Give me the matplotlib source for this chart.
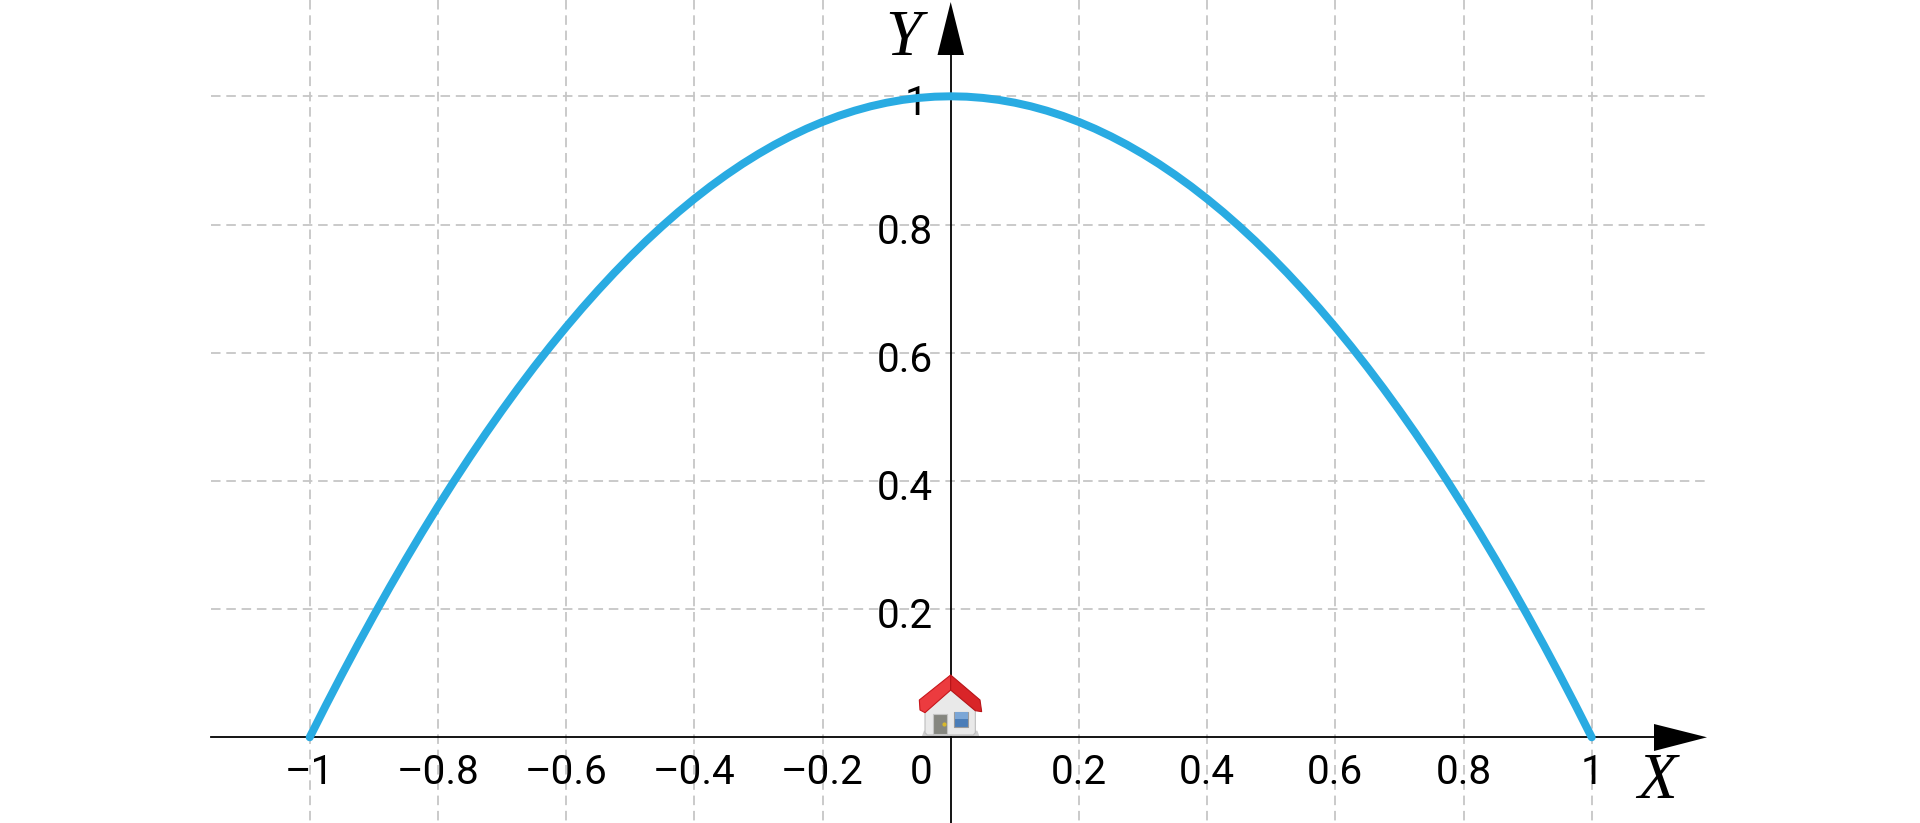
import matplotlib
matplotlib.use('Agg')
import matplotlib.pyplot as plt
from matplotlib.patches import Polygon, Rectangle
from matplotlib.lines import Line2D

plt.rcParams['path.simplify'] = False

# values
x_vals = [-1.0, -0.975, -0.95, -0.925, -0.9, -0.875, -0.85, -0.825, -0.8, -0.775,
          -0.75, -0.725, -0.7, -0.675, -0.65, -0.625, -0.6, -0.575, -0.55, -0.525,
          -0.5, -0.475, -0.45, -0.425, -0.4, -0.375, -0.35, -0.325, -0.3, -0.275,
          -0.25, -0.225, -0.2, -0.175, -0.15, -0.125, -0.1, -0.075, -0.05, -0.025,
          0.0, 0.025, 0.05, 0.075, 0.1, 0.125, 0.15, 0.175, 0.2, 0.225,
          0.25, 0.275, 0.3, 0.325, 0.35, 0.375, 0.4, 0.425, 0.45, 0.475,
          0.5, 0.525, 0.55, 0.575, 0.6, 0.625, 0.65, 0.675, 0.7, 0.725,
          0.75, 0.775, 0.8, 0.825, 0.85, 0.875, 0.9, 0.925, 0.95, 0.975, 1.0]
y_vals = [0.0, 0.0494, 0.0975, 0.1444, 0.19, 0.2344, 0.2775, 0.3194, 0.36, 0.3994,
          0.4375, 0.4744, 0.51, 0.5444, 0.5775, 0.6094, 0.64, 0.6694, 0.6975, 0.7244,
          0.75, 0.7744, 0.7975, 0.8194, 0.84, 0.8594, 0.8775, 0.8944, 0.91, 0.9244,
          0.9375, 0.9494, 0.96, 0.9694, 0.9775, 0.9844, 0.99, 0.9944, 0.9975, 0.9994,
          1.0, 0.9994, 0.9975, 0.9944, 0.99, 0.9844, 0.9775, 0.9694, 0.96, 0.9494,
          0.9375, 0.9244, 0.91, 0.8944, 0.8775, 0.8594, 0.84, 0.8194, 0.7975, 0.7744,
          0.75, 0.7244, 0.6975, 0.6694, 0.64, 0.6094, 0.5775, 0.5444, 0.51, 0.4744,
          0.4375, 0.3994, 0.36, 0.3194, 0.2775, 0.2344, 0.19, 0.1444, 0.0975, 0.0494, 0.0]

x_ticks = [-1, -0.8, -0.6, -0.4, -0.2, 0.2, 0.4, 0.6, 0.8, 1]
x_labels = ['–1', '–0.8', '–0.6', '–0.4', '–0.2', '0.2', '0.4', '0.6', '0.8', '1']
y_ticks = [0.2, 0.4, 0.6, 0.8, 1]
y_labels = ['0.2', '0.4', '0.6', '0.8', '1']

W, H = 1920, 823
X0, Y0, UNIT = 950.7, 737.3, 641.0   # pixel of the origin, pixels per unit


def px(n):
    # pixels to points at dpi 100
    return n * 72.0 / 100.0


fig = plt.figure(figsize=(W / 100, H / 100), dpi=100, facecolor='white')
ax = fig.add_axes([0, 0, 1, 1])
ax.set_xlim(-X0 / UNIT, (W - X0) / UNIT)
ax.set_ylim((Y0 - H) / UNIT, Y0 / UNIT)
ax.axis('off')

# overlay in image pixels for arrow heads and the house icon
ov = fig.add_axes([0, 0, 1, 1], zorder=5)
ov.set_xlim(0, W)
ov.set_ylim(H, 0)
ov.axis('off')
ov.patch.set_alpha(0)

grid_left = (210.5 - X0) / UNIT
grid_right = (1707 - X0) / UNIT
grid_style = dict(color='#c6c6c6', lw=px(1.8), dashes=(5.3, 3.2), zorder=1)
for t in x_ticks:
    ax.plot([t, t], [Y0 / UNIT, (Y0 - H) / UNIT], **grid_style)
for t in y_ticks:
    ax.plot([grid_left, grid_right], [t, t], **grid_style)

# axes
ax.plot([grid_left, (1660 - X0) / UNIT], [0, 0], color='black', lw=px(1.8), zorder=2)
ax.plot([0, 0], [(Y0 - H) / UNIT, (Y0 - 50) / UNIT], color='black', lw=px(1.8), zorder=2)
ov.add_patch(Polygon([(1654, 724), (1707, 737.3), (1654, 751)], color='black', lw=0))
ov.add_patch(Polygon([(937.5, 55), (950.7, 2), (964, 55)], color='black', lw=0))

# tick labels
font = dict(family='Roboto', fontsize=px(40.5), color='black', zorder=3)
for t, s in zip(x_ticks, x_labels):
    ax.annotate(s, (t, 0), xytext=(0, -px(47)), textcoords='offset points',
                ha='center', va='baseline', **font)
ax.annotate('0', (0, 0), xytext=(-px(18.5), -px(47)), textcoords='offset points',
            ha='right', va='baseline', **font)
for t, s in zip(y_ticks, y_labels):
    dx = -px(23) if s == '1' else -px(17.5)
    ax.annotate(s, (0, t), xytext=(dx, -px(19)), textcoords='offset points',
                ha='right', va='baseline', **font)

# curve
ax.plot(x_vals, y_vals, color='#29abe2', lw=px(8), solid_capstyle='round',
        solid_joinstyle='round', snap=False, zorder=4)

# axis names
names = dict(family='Liberation Serif', style='italic', fontsize=px(65), color='black')
ov.text(1657, 798, 'X', ha='center', va='baseline', **names)
ov.text(903, 55, 'Y', ha='center', va='baseline', **names)


# house icon, coordinates taken from a 3x crop at (860, 640)
def hp(pts):
    return [(860 + a / 3.0, 640 + b / 3.0) for a, b in pts]


ov.add_patch(Polygon(hp([(186, 288), (192, 272), (352, 272), (358, 288)]), color='#cfcfcf', lw=0))
ov.add_patch(Polygon(hp([(195, 215), (272, 150), (346, 212), (346, 278), (340, 285),
                         (202, 285), (195, 278)]), facecolor='#e9e9e9', edgecolor='#bdbdbd', lw=0.8))
ov.add_patch(Rectangle(hp([(220, 222)])[0], 42 / 3, 60 / 3, facecolor='#85867f', edgecolor='#c4c4c4', lw=0.8))
ov.add_line(Line2D([860 + 251 / 3.0], [640 + 252 / 3.0], marker='o', ms=2, color='#d9b92a', lw=0))
ov.add_patch(Rectangle(hp([(282, 215)])[0], 43 / 3, 45 / 3, facecolor='#4a7db8', edgecolor='#9a9a9a', lw=0.8))
ov.add_patch(Rectangle(hp([(284, 217)])[0], 39 / 3, 20 / 3, facecolor='#7ba6d6', lw=0))
ov.add_patch(Polygon(hp([(272, 105), (272, 150), (195, 218), (180, 210), (178, 180)]),
                     facecolor='#ec3b3f', edgecolor='#c8171c', lw=0.8))
ov.add_patch(Polygon(hp([(272, 105), (360, 180), (365, 215), (346, 212), (272, 150)]),
                     facecolor='#d92528', edgecolor='#b81519', lw=0.8))

fig.savefig('out.png', dpi=100)
